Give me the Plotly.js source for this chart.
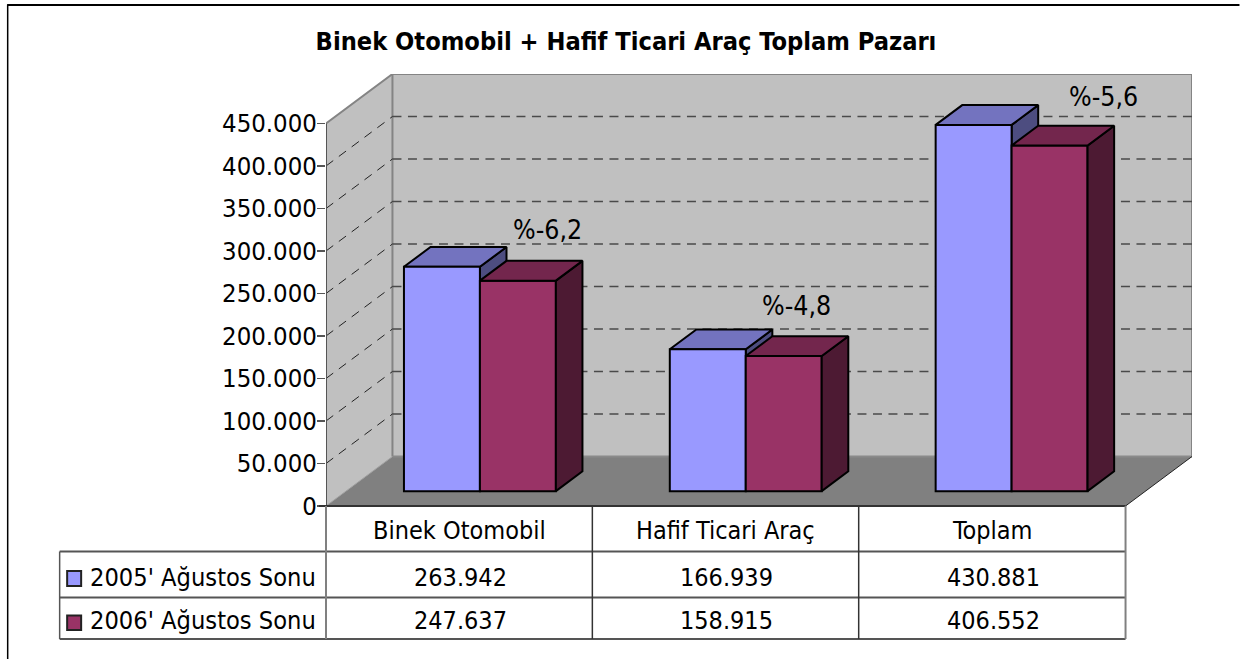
<!DOCTYPE html>
<html><head><meta charset="utf-8">
<script src="https://cdn.plot.ly/plotly-3.0.1.min.js"></script>
<style>html,body{margin:0;padding:0;background:#fff}#c{width:1240px;height:659px}</style>
</head><body><div id="c"></div>
<script>
const categories = ["Binek Otomobil", "Hafif Ticari Araç", "Toplam"];
const series2005 = [263942, 166939, 430881];
const series2006 = [247637, 158915, 406552];
const name2005 = "2005' Ağustos Sonu";
const name2006 = "2006' Ağustos Sonu";
const changeLabels = ["%-6,2", "%-4,8", "%-5,6"];
const tickVals = [0,50000,100000,150000,200000,250000,300000,350000,400000,450000];
const tickText = ["0","50.000","100.000","150.000","200.000","250.000","300.000","350.000","400.000","450.000"];
const titleText = "Binek Otomobil + Hafif Ticari Araç Toplam Pazarı";

const FONT = "'DejaVu Sans Condensed','DejaVu Sans',sans-serif";
const W=1240,H=659, L=326,R=1192.5,T=74,B=506, FR=1126, Y450=123.5;
const pxPerCat=(FR-L)/3, pxPerVal=(B-Y450)/450000;
const DX=(R-FR)/pxPerCat, DY=49.5/pxPerVal;
const xRange=[0,(R-L)/pxPerCat], yRange=[0,(B-T)/pxPerVal];
const BW=76/pxPerCat, D0=0.30, D1=0.70;
const px=x=>(x-L)/(R-L), py=y=>(B-y)/(B-T);

const c2005={f:'#9999FF',t:'#7373BF',s:'#4D4D80'}, c2006={f:'#993366',t:'#73264D',s:'#4D1A33'};
const poly=(xs,ys,fill,lc,lw,extra)=>Object.assign({type:'scatter',mode:lw?'lines':'none',x:xs.concat(xs[0]),y:ys.concat(ys[0]),fill:'toself',fillcolor:fill,line:{color:lc||fill,width:lw||0},hoverinfo:'skip',showlegend:false,cliponaxis:false},extra||{});
const seg=(xs,ys,color,width,dash)=>({type:'scatter',mode:'lines',x:xs,y:ys,line:{color,width,dash:dash||'solid'},hoverinfo:'skip',showlegend:false,cliponaxis:false,connectgaps:false});

const x3=3, maxV=450000;
const traces=[];
traces.push(poly([DX,x3+DX,x3+DX,DX],[DY,DY,maxV+DY,maxV+DY],'#C0C0C0'));
traces.push(poly([0,DX,DX,0],[0,DY,maxV+DY,maxV],'#C0C0C0'));
traces.push(poly([0,x3,x3+DX,DX],[0,0,DY,DY],'#808080'));
traces.push(seg([0,DX,x3+DX,x3+DX],[maxV,maxV+DY,maxV+DY,DY],'#848484',2));
traces.push(seg([DX,DX],[DY,maxV+DY],'#848484',2));
traces.push(seg([0,DX],[0,DY],'#A0A0A0',1));
traces.push(seg([DX,x3+DX],[DY,DY],'#8a8a8a',2));
traces.push(seg([x3,x3+DX],[0,DY],'#222222',1));
const gv=tickVals.slice(1,-1);
const gx=[],gy=[],lx=[],ly=[];
gv.forEach(v=>{gx.push(DX,x3+DX,null);gy.push(v+DY,v+DY,null);lx.push(0,DX,null);ly.push(v,v+DY,null);});
traces.push(seg(gx,gy,'#4a4a4a',1.5,'9px,6.5px'));
traces.push(seg(lx,ly,'#222222',1,'9px,7px'));
traces.push(seg([0,0],[0,maxV],'#555555',2));

const centers=categories.map((_,i)=>(480+266*i-L)/pxPerCat);
function topFace(x0,x1,v,c){return poly([x0,x1,x1+(D1-D0)*DX,x0+(D1-D0)*DX],[v+D0*DY,v+D0*DY,v+D1*DY,v+D1*DY],c.t,'#000',2);}
function sideFace(x1,v,c){return poly([x1,x1+(D1-D0)*DX,x1+(D1-D0)*DX,x1],[D0*DY,D1*DY,v+D1*DY,v+D0*DY],c.s,'#000',2);}
centers.forEach((cx,i)=>{
  traces.push(sideFace(cx,series2005[i],c2005));
  traces.push(topFace(cx-BW,cx,series2005[i],c2005));
});
const bar=(xs,ys,color,nm)=>({type:'bar',x:xs,y:ys,base:ys.map(()=>D0*DY),width:BW,name:nm,marker:{color,line:{color:'#000',width:2}},xaxis:'x2',yaxis:'y2',hoverinfo:'skip',showlegend:false,cliponaxis:false});
traces.push(bar(centers.map(c=>c-BW/2),series2005,c2005.f,name2005));
traces.push(bar(centers.map(c=>c+BW/2),series2006,c2006.f,name2006));
centers.forEach((cx,i)=>{
  const o=Object.assign;
  traces.push(o(sideFace(cx+BW,series2006[i],c2006),{xaxis:'x2',yaxis:'y2'}));
  traces.push(o(topFace(cx,cx+BW,series2006[i],c2006),{xaxis:'x2',yaxis:'y2'}));
});

const shapes=[], ann=[];
const hl=(x0,x1,y,color,w)=>shapes.push({type:'line',xref:'paper',yref:'paper',x0:px(x0),x1:px(x1),y0:py(y),y1:py(y),line:{color,width:w||1.5},layer:'above'});
const vl=(x,y0,y1,color,w)=>shapes.push({type:'line',xref:'paper',yref:'paper',x0:px(x),x1:px(x),y0:py(y0),y1:py(y1),line:{color,width:w||1.5},layer:'above'});
const rowY=[506,551.5,597.5,639], LEG=59.5;
vl(7.5,4.5,659,'#000',1.5); hl(7,1240,5,'#000',2);
hl(319,FR,rowY[0],'#333333',2);
hl(LEG,FR,rowY[1],'#555555',2);
hl(LEG,FR,rowY[2],'#555555',2);
hl(LEG,FR,rowY[3],'#555555',2);
vl(LEG,rowY[1],rowY[3],'#555555',1.5);
vl(326,rowY[0],rowY[3],'#808080',2);
vl(592.5,rowY[0],rowY[3],'#333333',1.5);
vl(859,rowY[0],rowY[3],'#333333',1.5);
vl(1126,rowY[0],rowY[3],'#808080',2);
const txt=(x,y,t,anchor,size)=>ann.push({xref:'paper',yref:'paper',x:px(x),y:py(y),text:t,showarrow:false,xanchor:anchor,yanchor:'middle',font:{family:FONT,size,color:'#000'}});
const SZ=25;
const colC=[459.5,726,992.5];
categories.forEach((c,i)=>{
  txt(colC[i],530.5,c,'center',SZ);
  txt(colC[i]+1,577,series2005[i].toLocaleString('de-DE'),'center',SZ);
  txt(colC[i]+1,620,series2006[i].toLocaleString('de-DE'),'center',SZ);
});
txt(88,577,name2005,'left',25.2);
txt(88,620,name2006,'left',25.2);
const key=(y0,y1,c)=>shapes.push({type:'rect',xref:'paper',yref:'paper',x0:px(67),x1:px(81),y0:py(y0),y1:py(y1),fillcolor:c,line:{color:'#222',width:2},layer:'above'});
key(571,586,c2005.f); key(615.5,630,c2006.f);
const labPos=[[548,229],[797,305],[1104,96]];
changeLabels.forEach((t,i)=>txt(labPos[i][0],labPos[i][1],t,'center',26.5));

const layout={
  width:W,height:H,showlegend:false,paper_bgcolor:'#fff',plot_bgcolor:'rgba(0,0,0,0)',
  margin:{l:L,r:W-R,t:T,b:H-B,pad:0,autoexpand:false},
  title:{text:'<b>'+titleText+'</b>',x:626/W,xref:'container',xanchor:'center',y:1-41/H,yref:'container',yanchor:'middle',font:{family:FONT,size:25.2,color:'#000'}},
  barmode:'overlay',
  xaxis:{range:xRange,visible:false,fixedrange:true},
  yaxis:{range:yRange,tickmode:'array',tickvals:tickVals,ticktext:tickText,ticks:'outside',ticklen:8,tickwidth:1.5,tickcolor:'#555',ticklabelstandoff:-5,showgrid:false,zeroline:false,showline:false,tickfont:{family:FONT,size:25.5,color:'#000'},fixedrange:true,automargin:false},
  xaxis2:{range:xRange,overlaying:'x',anchor:'y2',visible:false,fixedrange:true},
  yaxis2:{range:yRange,overlaying:'y',anchor:'x2',visible:false,fixedrange:true},
  shapes,annotations:ann
};
Plotly.newPlot('c',traces,layout,{displayModeBar:false,staticPlot:true});
</script></body></html>
